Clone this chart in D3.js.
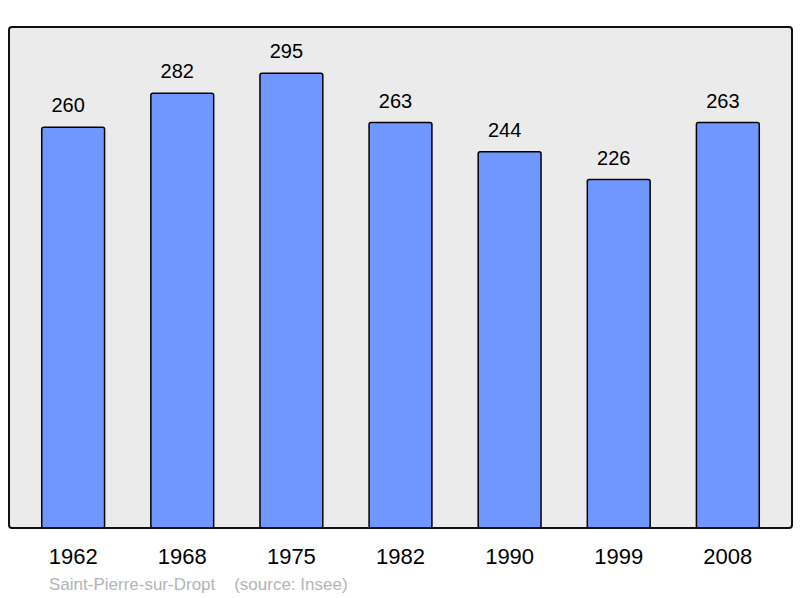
<!DOCTYPE html>
<html>
<head>
<meta charset="utf-8">
<script src="https://cdn.jsdelivr.net/npm/d3@7"></script>
<style>
  body { margin: 0; background: #fff; }
  svg { display: block; font-family: "Liberation Sans", Arial, sans-serif; }
</style>
</head>
<body>
<script>
// population per census year
const years = ["1962", "1968", "1975", "1982", "1990", "1999", "2008"];
const population = [260, 282, 295, 263, 244, 226, 263];
const commune = "Saint-Pierre-sur-Dropt";
const source = "(source: Insee)";

const width = 800, height = 598;
const plot = { left: 9, top: 27, right: 792, bottom: 528 };

const svg = d3.select("body").append("svg")
    .attr("width", width)
    .attr("height", height);

const x = d3.scaleBand()
    .domain(years)
    .range([plot.left, plot.right])
    .paddingInner(0.424)
    .paddingOuter(0.30);

const y = d3.scaleLinear()
    .domain([0, 325])
    .range([plot.bottom, plot.top]);

// grey plot background
svg.append("rect")
    .attr("x", plot.left)
    .attr("y", plot.top)
    .attr("width", plot.right - plot.left)
    .attr("height", plot.bottom - plot.top)
    .attr("rx", 3)
    .attr("fill", "#ebebeb");

const data = years.map((yr, i) => ({ year: yr, value: population[i] }));

svg.selectAll("rect.bar")
    .data(data)
    .join("rect")
    .attr("class", "bar")
    .attr("x", d => x(d.year))
    .attr("y", d => y(d.value))
    .attr("width", x.bandwidth())
    .attr("height", d => y(0) - y(d.value))
    .attr("rx", 2)
    .attr("fill", "#7097ff")
    .attr("stroke", "#000")
    .attr("stroke-width", 1.5);

// value labels above bars (sit a little left of centre, like the original)
svg.selectAll("text.value")
    .data(data)
    .join("text")
    .attr("class", "value")
    .attr("x", d => x(d.year) + x.bandwidth() / 2 - 5)
    .attr("y", d => y(d.value) - 15)
    .attr("text-anchor", "middle")
    .attr("font-size", "20px")
    .attr("fill", "#000")
    .text(d => d.value);

// frame drawn on top of bars
svg.append("rect")
    .attr("x", plot.left)
    .attr("y", plot.top)
    .attr("width", plot.right - plot.left)
    .attr("height", plot.bottom - plot.top)
    .attr("rx", 3)
    .attr("fill", "none")
    .attr("stroke", "#111")
    .attr("stroke-width", 2);

// year labels
const xAxis = svg.append("g")
    .attr("transform", `translate(0,${plot.bottom})`)
    .call(d3.axisBottom(x).tickSize(0));
xAxis.select(".domain").remove();
xAxis.selectAll("text")
    .attr("y", 36)
    .attr("dy", 0)
    .attr("font-family", "Liberation Sans, Arial, sans-serif")
    .attr("font-size", "22px")
    .attr("fill", "#000");

svg.append("text")
    .attr("x", 49)
    .attr("y", 590)
    .attr("font-size", "17px")
    .attr("fill", "#b4b4b4")
    .attr("xml:space", "preserve")
    .text(commune + "    " + source);
</script>
</body>
</html>
